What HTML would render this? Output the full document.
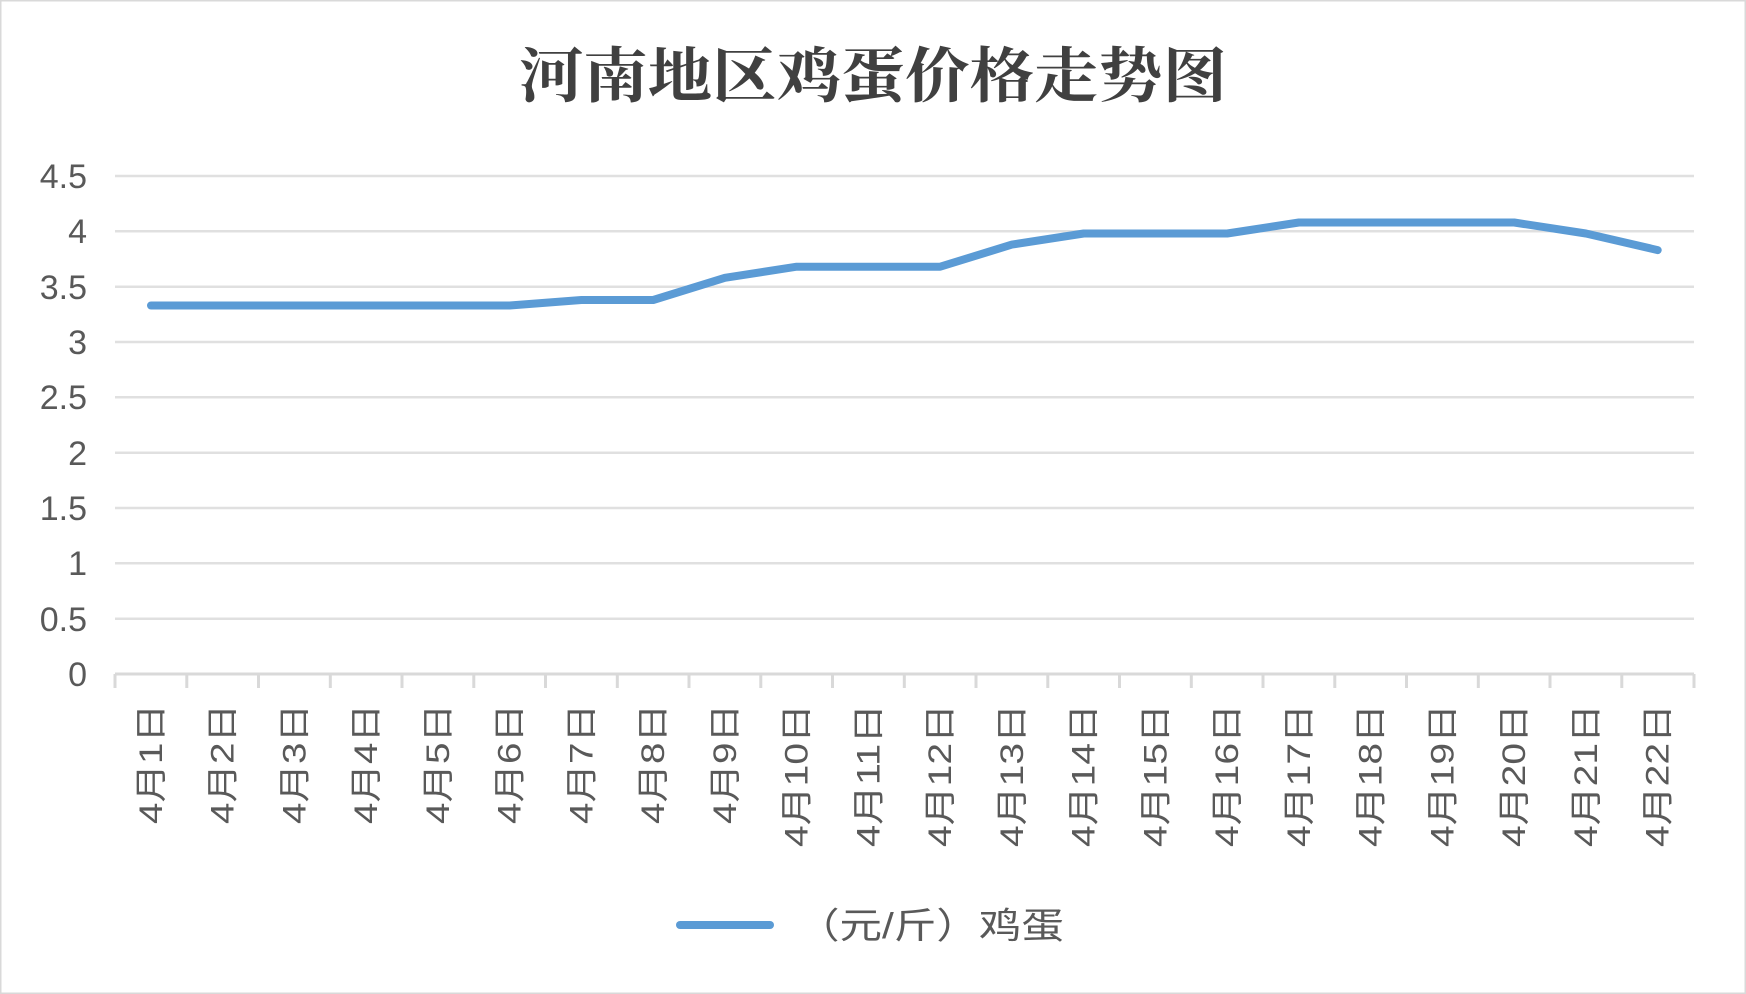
<!DOCTYPE html>
<html><head><meta charset="utf-8"><style>
html,body{margin:0;padding:0;background:#fff}
svg{display:block}
text{font-family:"Liberation Sans","Noto Sans CJK SC",sans-serif;fill:#595959}
</style></head><body>
<svg width="1746" height="994" viewBox="0 0 1746 994" xmlns="http://www.w3.org/2000/svg">
<rect x="0.5" y="0.5" width="1745" height="993" fill="#fff" stroke="#d9d9d9" stroke-width="2"/>
<text x="873" y="97" text-anchor="middle" textLength="708" lengthAdjust="spacingAndGlyphs" style="font-family:'Noto Serif CJK SC','Noto Sans CJK SC',serif;font-weight:bold;font-size:60px;fill:#404040">河南地区鸡蛋价格走势图</text>
<g stroke="#e0e0e0" stroke-width="2.5">
<line x1="115" y1="176" x2="1694" y2="176"/>
<line x1="115" y1="231.3" x2="1694" y2="231.3"/>
<line x1="115" y1="286.7" x2="1694" y2="286.7"/>
<line x1="115" y1="342" x2="1694" y2="342"/>
<line x1="115" y1="397.3" x2="1694" y2="397.3"/>
<line x1="115" y1="452.7" x2="1694" y2="452.7"/>
<line x1="115" y1="508" x2="1694" y2="508"/>
<line x1="115" y1="563.3" x2="1694" y2="563.3"/>
<line x1="115" y1="618.7" x2="1694" y2="618.7"/>
</g>
<g stroke="#d9d9d9" stroke-width="3">
<line x1="115" y1="674" x2="1694" y2="674"/>
<path d="M115 674v14M186.8 674v14M258.5 674v14M330.3 674v14M402 674v14M473.8 674v14M545.5 674v14M617.3 674v14M689 674v14M760.8 674v14M832.5 674v14M904.3 674v14M976 674v14M1047.8 674v14M1119.5 674v14M1191.3 674v14M1263 674v14M1334.8 674v14M1406.5 674v14M1478.3 674v14M1550 674v14M1621.8 674v14M1694 674v14"/>
</g>
<g font-size="34" text-anchor="end">
<text x="87" y="188">4.5</text><text x="87" y="243">4</text><text x="87" y="299">3.5</text><text x="87" y="354">3</text><text x="87" y="409">2.5</text><text x="87" y="465">2</text><text x="87" y="520">1.5</text><text x="87" y="575">1</text><text x="87" y="631">0.5</text><text x="87" y="686">0</text>
</g>
<polyline fill="none" stroke="#5b9bd5" stroke-width="8" stroke-linecap="round" stroke-linejoin="round" points="151,305.5 222.7,305.5 294.4,305.5 366.2,305.5 437.9,305.5 509.7,305.5 581.4,300 653.2,300 724.9,277.8 796.7,266.7 868.4,266.7 940.2,266.7 1011.9,244.6 1083.7,233.5 1155.4,233.5 1227.2,233.5 1298.9,222.5 1370.7,222.5 1442.4,222.5 1514.2,222.5 1585.9,233.5 1657.7,250.1"/>
<g font-size="32" text-anchor="end">
<text transform="translate(162,704) rotate(-90)" textLength="120" lengthAdjust="spacingAndGlyphs">4月1日</text>
<text transform="translate(233.7,704) rotate(-90)" textLength="120" lengthAdjust="spacingAndGlyphs">4月2日</text>
<text transform="translate(305.4,704) rotate(-90)" textLength="120" lengthAdjust="spacingAndGlyphs">4月3日</text>
<text transform="translate(377.2,704) rotate(-90)" textLength="120" lengthAdjust="spacingAndGlyphs">4月4日</text>
<text transform="translate(448.9,704) rotate(-90)" textLength="120" lengthAdjust="spacingAndGlyphs">4月5日</text>
<text transform="translate(520.7,704) rotate(-90)" textLength="120" lengthAdjust="spacingAndGlyphs">4月6日</text>
<text transform="translate(592.4,704) rotate(-90)" textLength="120" lengthAdjust="spacingAndGlyphs">4月7日</text>
<text transform="translate(664.2,704) rotate(-90)" textLength="120" lengthAdjust="spacingAndGlyphs">4月8日</text>
<text transform="translate(735.9,704) rotate(-90)" textLength="120" lengthAdjust="spacingAndGlyphs">4月9日</text>
<text transform="translate(807.7,704) rotate(-90)" textLength="143" lengthAdjust="spacingAndGlyphs">4月10日</text>
<text transform="translate(879.4,704) rotate(-90)" textLength="143" lengthAdjust="spacingAndGlyphs">4月11日</text>
<text transform="translate(951.2,704) rotate(-90)" textLength="143" lengthAdjust="spacingAndGlyphs">4月12日</text>
<text transform="translate(1022.9,704) rotate(-90)" textLength="143" lengthAdjust="spacingAndGlyphs">4月13日</text>
<text transform="translate(1094.7,704) rotate(-90)" textLength="143" lengthAdjust="spacingAndGlyphs">4月14日</text>
<text transform="translate(1166.4,704) rotate(-90)" textLength="143" lengthAdjust="spacingAndGlyphs">4月15日</text>
<text transform="translate(1238.2,704) rotate(-90)" textLength="143" lengthAdjust="spacingAndGlyphs">4月16日</text>
<text transform="translate(1309.9,704) rotate(-90)" textLength="143" lengthAdjust="spacingAndGlyphs">4月17日</text>
<text transform="translate(1381.7,704) rotate(-90)" textLength="143" lengthAdjust="spacingAndGlyphs">4月18日</text>
<text transform="translate(1453.4,704) rotate(-90)" textLength="143" lengthAdjust="spacingAndGlyphs">4月19日</text>
<text transform="translate(1525.2,704) rotate(-90)" textLength="143" lengthAdjust="spacingAndGlyphs">4月20日</text>
<text transform="translate(1596.9,704) rotate(-90)" textLength="143" lengthAdjust="spacingAndGlyphs">4月21日</text>
<text transform="translate(1668.7,704) rotate(-90)" textLength="143" lengthAdjust="spacingAndGlyphs">4月22日</text>
</g>
<line x1="680" y1="925" x2="770" y2="925" stroke="#5b9bd5" stroke-width="8" stroke-linecap="round"/>
<text x="797" y="938" font-size="36" textLength="267" lengthAdjust="spacingAndGlyphs">（元/斤）鸡蛋</text>
</svg>
</body></html>
